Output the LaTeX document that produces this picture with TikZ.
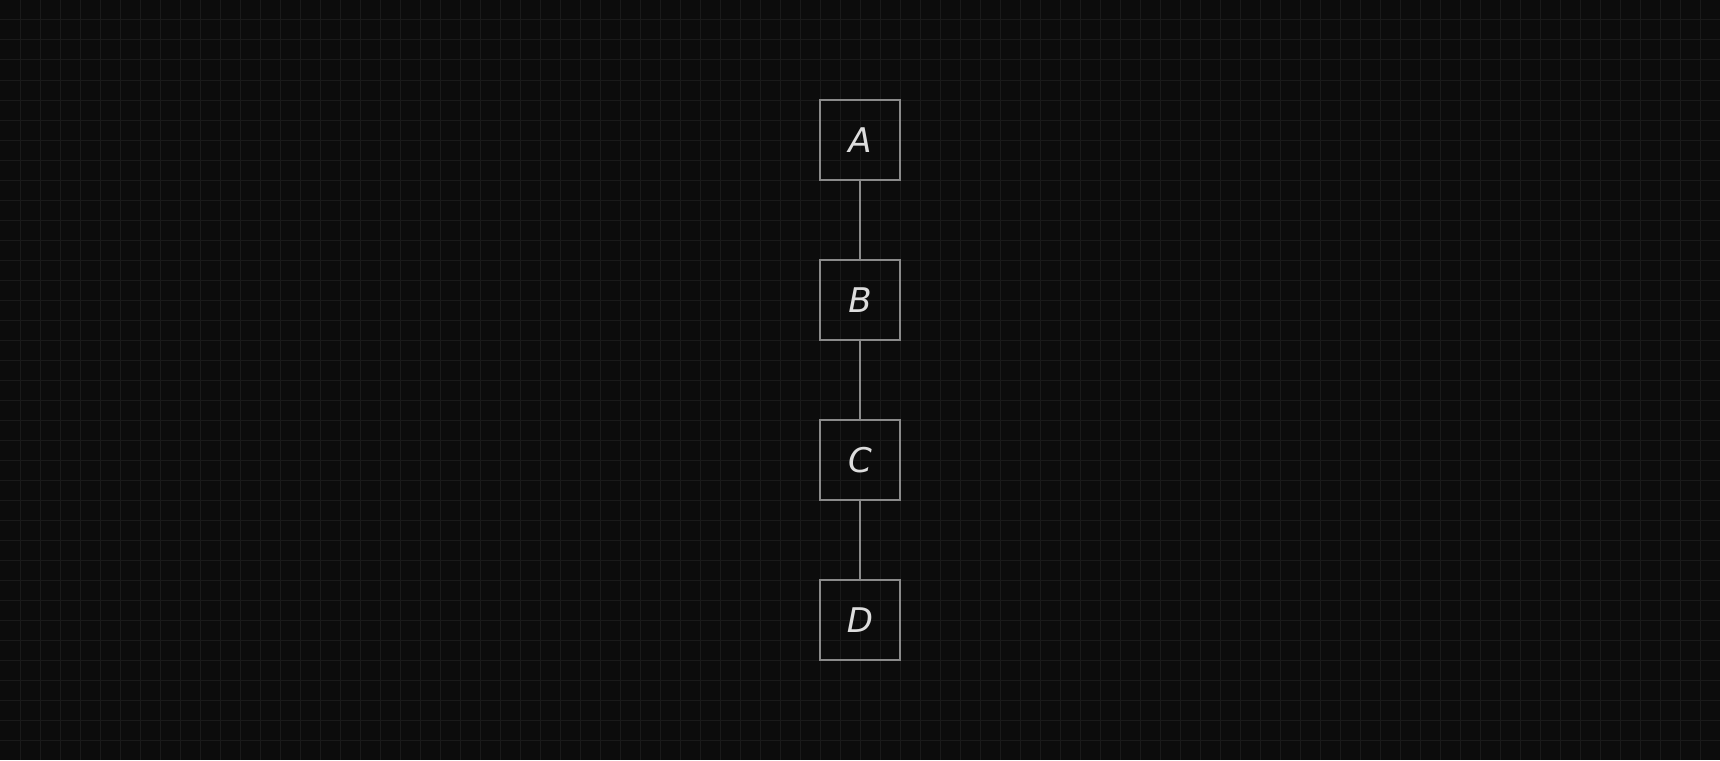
\documentclass[tikz,border=0pt]{standalone}
\usepackage{fontspec}
\setmainfont{DejaVu Sans}
\definecolor{bgc}{HTML}{0C0C0C}
\definecolor{gridc}{HTML}{1A1A1A}
\definecolor{boxc}{HTML}{8A8A8A}
\definecolor{txtc}{HTML}{DDDDDD}
\begin{document}
\begin{tikzpicture}[x=1pt,y=-1pt,
  blk/.style={draw=boxc,line width=1.5pt,minimum width=80pt,minimum height=80pt,inner sep=0pt,
    font=\fontsize{34}{34}\selectfont\itshape,text=txtc},
  link/.style={draw=boxc,line width=1.5pt}]
\useasboundingbox (0,0) rectangle (1720,760);
\fill[bgc] (0,0) rectangle (1720,760);
\foreach \i in {20,40,...,1700} \draw[gridc,line width=1pt] (\i,0) -- (\i,760);
\foreach \j in {20,40,...,740} \draw[gridc,line width=1pt] (0,\j) -- (1720,\j);
\node[blk] (a) at (860,140) {A};
\node[blk] (b) at (860,300) {B};
\node[blk] (c) at (860,460) {C};
\node[blk] (d) at (860,620) {D};
\draw[link] (a) -- (b);
\draw[link] (b) -- (c);
\draw[link] (c) -- (d);
\end{tikzpicture}
\end{document}
